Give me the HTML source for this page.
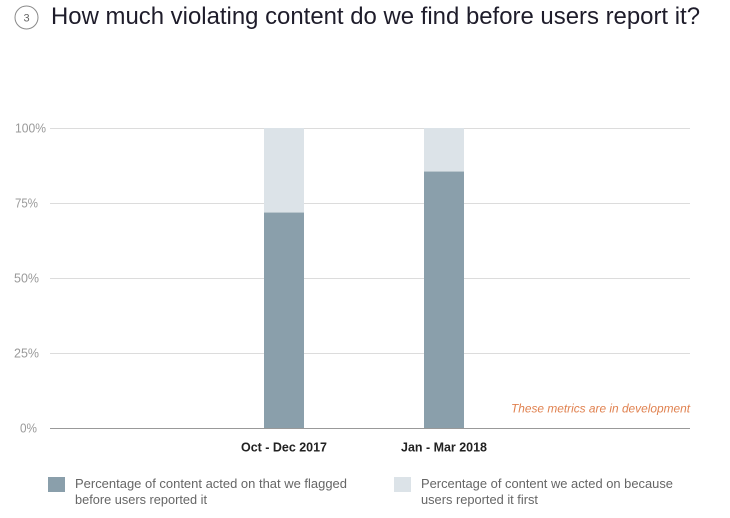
<!DOCTYPE html>
<html><head><meta charset="utf-8"><style>
html,body{margin:0;padding:0;background:#fff;}
svg{display:block;}
</style></head><body>
<svg width="730" height="518" viewBox="0 0 730 518" xmlns="http://www.w3.org/2000/svg" font-family="Liberation Sans, Arial, sans-serif">
<rect width="730" height="518" fill="#fff"/>
<circle cx="26.5" cy="17.5" r="11.5" fill="none" stroke="#8a8a8a" stroke-width="1"/>
<text x="26.5" y="21.5" font-size="11" fill="#666" text-anchor="middle">3</text>
<text x="51" y="24" font-size="24" fill="#1e1c2a" textLength="649" lengthAdjust="spacingAndGlyphs">How much violating content do we find before users report it?</text>

<g stroke="#dcdcdc" stroke-width="1">
<line x1="50" y1="128.5" x2="690" y2="128.5"/>
<line x1="50" y1="203.5" x2="690" y2="203.5"/>
<line x1="50" y1="278.5" x2="690" y2="278.5"/>
<line x1="50" y1="353.5" x2="690" y2="353.5"/>
</g>
<g font-size="12.5" fill="#999">
<text x="15" y="132.5" textLength="31" lengthAdjust="spacingAndGlyphs">100%</text>
<text x="15" y="207.5" textLength="23" lengthAdjust="spacingAndGlyphs">75%</text>
<text x="14" y="282.5" textLength="25" lengthAdjust="spacingAndGlyphs">50%</text>
<text x="14" y="357.5" textLength="25" lengthAdjust="spacingAndGlyphs">25%</text>
<text x="20" y="432.5" textLength="17" lengthAdjust="spacingAndGlyphs">0%</text>
</g>

<rect x="264" y="128" width="40" height="85" fill="#dce3e8"/>
<rect x="264" y="213" width="40" height="215" fill="#8a9fab"/>
<line x1="264" y1="212.5" x2="304" y2="212.5" stroke="#b9c6cd" stroke-width="1"/>
<rect x="424" y="128" width="40" height="44" fill="#dce3e8"/>
<rect x="424" y="172" width="40" height="256" fill="#8a9fab"/>
<line x1="424" y1="171.5" x2="464" y2="171.5" stroke="#b9c6cd" stroke-width="1"/>

<line x1="50" y1="428.5" x2="690" y2="428.5" stroke="#999" stroke-width="1"/>

<text x="511" y="412.5" font-size="12" font-style="italic" fill="#e0814f" textLength="179" lengthAdjust="spacingAndGlyphs">These metrics are in development</text>

<g font-size="13" font-weight="bold" fill="#222">
<text x="241" y="451.5" textLength="86" lengthAdjust="spacingAndGlyphs">Oct - Dec 2017</text>
<text x="401" y="451.5" textLength="86" lengthAdjust="spacingAndGlyphs">Jan - Mar 2018</text>
</g>

<rect x="48" y="477" width="17" height="15" fill="#8a9fab"/>
<rect x="394" y="477" width="17" height="15" fill="#dce3e8"/>
<g font-size="13" fill="#666">
<text x="75" y="488" textLength="272" lengthAdjust="spacingAndGlyphs">Percentage of content acted on that we flagged</text>
<text x="75" y="504" textLength="132" lengthAdjust="spacingAndGlyphs">before users reported it</text>
<text x="421" y="488" textLength="252" lengthAdjust="spacingAndGlyphs">Percentage of content we acted on because</text>
<text x="421" y="504" textLength="117" lengthAdjust="spacingAndGlyphs">users reported it first</text>
</g>
</svg>
</body></html>
